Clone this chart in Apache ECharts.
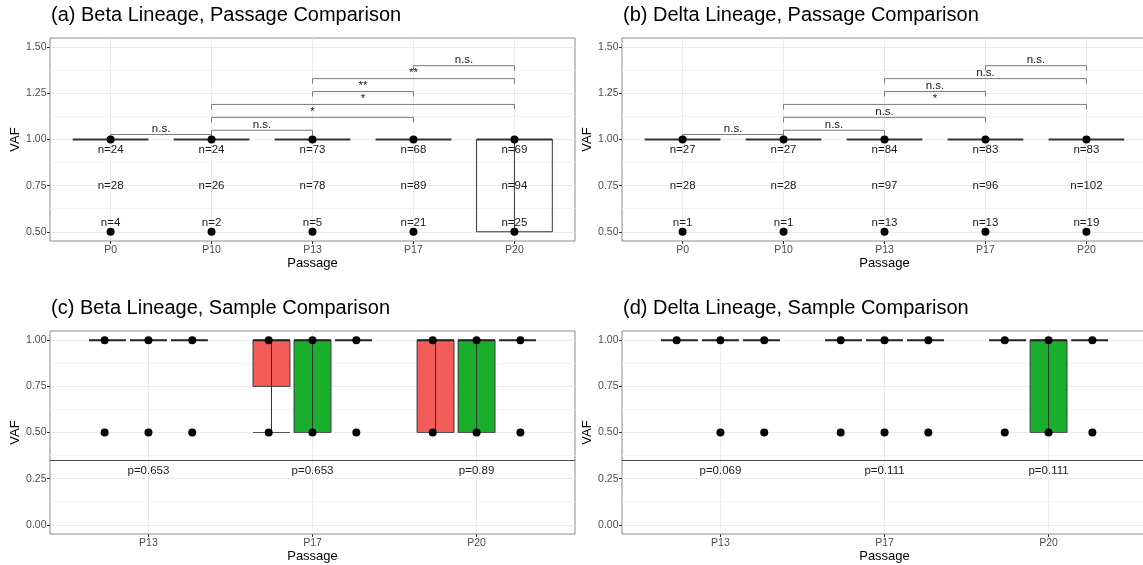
<!DOCTYPE html>
<html>
<head>
<meta charset="utf-8">
<script src="https://cdn.jsdelivr.net/npm/echarts@6/dist/echarts.min.js"></script>
<style>
html, body { margin: 0; padding: 0; background: #fff; }
#chart { width: 1143px; height: 565px; }
</style>
</head>
<body>
<div id="chart"></div>
<script>
// ---- passage comparison (a, b) ----
const passages = ['P0', 'P10', 'P13', 'P17', 'P20'];

const betaPassQ1 = [1, 1, 1, 1, 0.5];
const betaPassQ3 = [1, 1, 1, 1, 1];
const betaPassVals = [[0.5, 1], [0.5, 1], [0.5, 1], [0.5, 1], [0.5, 1]];
const betaCountHigh = [24, 24, 73, 68, 69];
const betaCountMid = [28, 26, 78, 89, 94];
const betaCountLow = [4, 2, 5, 21, 25];

const deltaPassQ1 = [1, 1, 1, 1, 1];
const deltaPassQ3 = [1, 1, 1, 1, 1];
const deltaPassVals = [[0.5, 1], [0.5, 1], [0.5, 1], [0.5, 1], [0.5, 1]];
const deltaCountHigh = [27, 27, 84, 83, 83];
const deltaCountMid = [28, 28, 97, 96, 102];
const deltaCountLow = [1, 1, 13, 13, 19];

const countRowY = [0.946, 0.75, 0.548];

const pairs = [['P0', 'P10'], ['P10', 'P13'], ['P10', 'P17'], ['P10', 'P20'], ['P13', 'P17'], ['P13', 'P20'], ['P17', 'P20']];
const pairY = [1.027, 1.05, 1.12, 1.19, 1.26, 1.33, 1.40];
const betaSig = ['n.s.', 'n.s.', '*', '*', '**', '**', 'n.s.'];
const deltaSig = ['n.s.', 'n.s.', 'n.s.', '*', 'n.s.', 'n.s.', 'n.s.'];

// ---- sample comparison (c, d) ----
const samplePassages = ['P13', 'P17', 'P20'];
const sampleFill = ['#F25D5A', '#1AAE2D', '#619CFF'];

const betaSampMin = [[1, 1, 1], [0.5, 0.5, 1], [0.5, 0.5, 1]];
const betaSampQ1 = [[1, 1, 1], [0.75, 0.5, 1], [0.5, 0.5, 1]];
const betaSampQ3 = [[1, 1, 1], [1, 1, 1], [1, 1, 1]];
const betaSampVals = [
  [[0.5, 1], [0.5, 1], [0.5, 1]],
  [[0.5, 1], [0.5, 1], [0.5, 1]],
  [[0.5, 1], [0.5, 1], [0.5, 1]]
];
const betaP = ['p=0.653', 'p=0.653', 'p=0.89'];

const deltaSampMin = [[1, 1, 1], [1, 1, 1], [1, 0.5, 1]];
const deltaSampQ1 = [[1, 1, 1], [1, 1, 1], [1, 0.5, 1]];
const deltaSampQ3 = [[1, 1, 1], [1, 1, 1], [1, 1, 1]];
const deltaSampVals = [
  [[1], [0.5, 1], [0.5, 1]],
  [[0.5, 1], [0.5, 1], [0.5, 1]],
  [[0.5, 1], [0.5, 1], [0.5, 1]]
];
const deltaP = ['p=0.069', 'p=0.111', 'p=0.111'];

const pRowY = 0.295;
const cutY = 0.35;

// ---- layout / style ----
const FONT = "'Liberation Sans', Arial, Helvetica, sans-serif";
const FRAME_W = 525, FRAME_H = 203;
const PASS_HALF = 0.375;
const SAMP_HALF = 0.1125;
const BOX_OFF = [-0.25, 0, 0.25];
const PT_OFF = [-0.267, 0, 0.267];
const TIP = 0.027;

const panels = [
  { title: '(a) Beta Lineage, Passage Comparison', left: 50, top: 38, kind: 'pass',
    q1: betaPassQ1, q3: betaPassQ3, vals: betaPassVals, counts: [betaCountHigh, betaCountMid, betaCountLow], sig: betaSig },
  { title: '(b) Delta Lineage, Passage Comparison', left: 622, top: 38, kind: 'pass',
    q1: deltaPassQ1, q3: deltaPassQ3, vals: deltaPassVals, counts: [deltaCountHigh, deltaCountMid, deltaCountLow], sig: deltaSig },
  { title: '(c) Beta Lineage, Sample Comparison', left: 50, top: 331, kind: 'samp',
    min: betaSampMin, q1: betaSampQ1, q3: betaSampQ3, vals: betaSampVals, p: betaP },
  { title: '(d) Delta Lineage, Sample Comparison', left: 622, top: 331, kind: 'samp',
    min: deltaSampMin, q1: deltaSampQ1, q3: deltaSampQ3, vals: deltaSampVals, p: deltaP }
];

function txt(str, x, y, va) {
  return { type: 'text', x: x, y: y, style: { text: str, fill: '#1a1a1a', fontSize: 11.5, fontFamily: FONT, align: 'center', verticalAlign: va || 'middle' } };
}

const grids = [], xAxes = [], yAxes = [], series = [], titles = [];

panels.forEach(p => {
  const cats = p.kind === 'pass' ? passages : samplePassages;
  const n = cats.length;
  const yMin = p.kind === 'pass' ? 0.45 : -0.05;
  const yMax = yMin + 1.1;
  const tMin = yMin + 0.05, tMax = yMax - 0.05;
  const pxY = FRAME_H / (yMax - yMin);
  const unit = FRAME_W / (n + 0.2);
  const g = grids.length;

  titles.push({ text: p.title, left: p.left + 1, top: p.top - 32.5, padding: 0,
    textStyle: { fontSize: 20, fontWeight: 'normal', color: '#000', fontFamily: FONT } });

  // frame grid (data lives here)
  grids.push({ left: p.left, top: p.top, width: FRAME_W, height: FRAME_H, show: true,
    borderColor: '#8a8a8a', borderWidth: 1, backgroundColor: 'transparent', outerBoundsMode: 'none' });
  xAxes.push({ type: 'value', gridIndex: g, min: 0.4, max: n + 0.6, show: false });
  yAxes.push({ type: 'value', gridIndex: g, min: yMin, max: yMax, show: false });

  // y axis grid (labels + horizontal grid lines)
  grids.push({ left: p.left, top: p.top + (yMax - tMax) * pxY, width: FRAME_W, height: (tMax - tMin) * pxY, outerBoundsMode: 'none' });
  xAxes.push({ type: 'value', gridIndex: g + 1, show: false });
  yAxes.push({
    type: 'value', gridIndex: g + 1, min: tMin, max: tMax, interval: 0.25,
    name: 'VAF', nameLocation: 'middle', nameGap: 26.5,
    nameTextStyle: { fontSize: 13, color: '#000', fontFamily: FONT },
    axisLine: { show: false },
    axisTick: { show: true, length: 3, lineStyle: { color: '#333' } },
    axisLabel: { margin: 3.5, fontSize: 10.5, color: '#4d4d4d', fontFamily: FONT, formatter: v => v.toFixed(2) },
    splitLine: { show: true, lineStyle: { color: '#ebebeb', width: 1 } },
    minorTick: { show: false, splitNumber: 2 },
    minorSplitLine: { show: true, lineStyle: { color: '#f5f5f5', width: 1 } }
  });

  // x axis grid (category labels + vertical grid lines)
  grids.push({ left: p.left + 0.6 * unit, top: p.top, width: (n - 1) * unit, height: FRAME_H, outerBoundsMode: 'none' });
  xAxes.push({
    type: 'category', gridIndex: g + 2, data: cats, boundaryGap: false,
    name: 'Passage', nameLocation: 'middle', nameGap: 15,
    nameTextStyle: { fontSize: 13, color: '#000', fontFamily: FONT },
    axisLine: { show: false },
    axisTick: { show: true, length: 3, interval: 0, lineStyle: { color: '#333' } },
    axisLabel: { margin: 4, interval: 0, fontSize: 10.5, color: '#4d4d4d', fontFamily: FONT },
    splitLine: { show: true, interval: 0, lineStyle: { color: '#ebebeb', width: 1 } }
  });
  yAxes.push({ type: 'value', gridIndex: g + 2, show: false });

  const ax = { xAxisIndex: g, yAxisIndex: g };

  if (p.kind === 'pass') {
    // count labels
    const cData = [];
    p.counts.forEach((row, r) => row.forEach((c, i) => cData.push([i + 1, countRowY[r], c])));
    series.push(Object.assign({
      type: 'custom', z: 2, silent: true, data: cData,
      renderItem: (params, api) => {
        const pt = api.coord([api.value(0), api.value(1)]);
        return txt('n=' + api.value(2), pt[0], pt[1]);
      }
    }, ax));

    // boxes
    series.push(Object.assign({
      type: 'custom', z: 3, silent: true,
      data: cats.map((c, i) => [i + 1, p.q1[i], p.q3[i]]),
      renderItem: (params, api) => {
        const x = api.value(0), lo = api.value(1), hi = api.value(2);
        const L = api.coord([x - PASS_HALF, hi]), R = api.coord([x + PASS_HALF, lo]);
        const cx = api.coord([x, hi])[0];
        const kids = [];
        if (hi > lo) {
          kids.push({ type: 'rect', shape: { x: L[0], y: L[1], width: R[0] - L[0], height: R[1] - L[1] }, style: { fill: 'none', stroke: '#333', lineWidth: 1 } });
          kids.push({ type: 'line', shape: { x1: cx, y1: L[1], x2: cx, y2: R[1] }, style: { stroke: '#333', lineWidth: 1 } });
        }
        kids.push({ type: 'line', shape: { x1: L[0], y1: L[1], x2: R[0], y2: L[1] }, style: { stroke: '#333', lineWidth: 2 } });
        return { type: 'group', children: kids };
      }
    }, ax));

    // points
    const pts = [];
    p.vals.forEach((vs, i) => vs.forEach(v => pts.push([i + 1, v])));
    series.push(Object.assign({ type: 'scatter', z: 4, silent: true, symbolSize: 8, itemStyle: { color: '#000', opacity: 1 }, data: pts }, ax));

    // significance brackets
    const sig = p.sig;
    series.push(Object.assign({
      type: 'custom', z: 4, silent: true,
      data: pairs.map((pr, j) => [passages.indexOf(pr[0]) + 1, passages.indexOf(pr[1]) + 1, pairY[j]]),
      renderItem: (params, api) => {
        const x1 = api.value(0), x2 = api.value(1), y = api.value(2);
        const a = api.coord([x1, y - TIP]), b = api.coord([x1, y]), c = api.coord([x2, y]), d = api.coord([x2, y - TIP]);
        return { type: 'group', children: [
          { type: 'polyline', shape: { points: [a, b, c, d] }, style: { fill: 'none', stroke: '#7a7a7a', lineWidth: 1 } },
          txt(sig[params.dataIndex], (b[0] + c[0]) / 2, b[1] + 0.5, 'bottom')
        ] };
      }
    }, ax));
  } else {
    // dodged boxes
    const bData = [];
    cats.forEach((c, i) => [0, 1, 2].forEach(j => bData.push([i + 1 + BOX_OFF[j], p.min[i][j], p.q1[i][j], p.q3[i][j], j])));
    series.push(Object.assign({
      type: 'custom', z: 3, silent: true, data: bData,
      renderItem: (params, api) => {
        const x = api.value(0), mn = api.value(1), lo = api.value(2), hi = api.value(3), j = api.value(4);
        const L = api.coord([x - SAMP_HALF, hi]), R = api.coord([x + SAMP_HALF, lo]);
        const bottom = api.coord([x, mn]);
        const kids = [];
        if (hi > mn) {
          if (hi > lo) {
            kids.push({ type: 'rect', shape: { x: L[0], y: L[1], width: R[0] - L[0], height: R[1] - L[1] }, style: { fill: sampleFill[j], stroke: '#3a3a3a', lineWidth: 1 } });
          }
          kids.push({ type: 'line', shape: { x1: L[0], y1: bottom[1], x2: R[0], y2: bottom[1] }, style: { stroke: '#555', lineWidth: 1 } });
          kids.push({ type: 'line', shape: { x1: bottom[0], y1: L[1], x2: bottom[0], y2: bottom[1] }, style: { stroke: '#333', lineWidth: 1 } });
        }
        kids.push({ type: 'line', shape: { x1: L[0], y1: L[1], x2: R[0], y2: L[1] }, style: { stroke: '#222', lineWidth: 2 } });
        return { type: 'group', children: kids };
      }
    }, ax));

    // points + separator line
    const pts = [];
    p.vals.forEach((grp, i) => grp.forEach((vs, j) => vs.forEach(v => pts.push([i + 1 + PT_OFF[j], v]))));
    series.push(Object.assign({
      type: 'scatter', z: 4, silent: true, symbolSize: 8, itemStyle: { color: '#000', opacity: 1 }, data: pts,
      markLine: { silent: true, symbol: ['none', 'none'], animation: false, label: { show: false },
        lineStyle: { color: '#4d4d4d', width: 1.2, type: 'solid' }, data: [{ yAxis: cutY }] }
    }, ax));

    // p-values
    const pv = p.p;
    series.push(Object.assign({
      type: 'custom', z: 4, silent: true,
      data: cats.map((c, i) => [i + 1, pRowY]),
      renderItem: (params, api) => {
        const pt = api.coord([api.value(0), api.value(1)]);
        return txt(pv[params.dataIndex], pt[0], pt[1]);
      }
    }, ax));
  }
});

const myChart = echarts.init(document.getElementById('chart'), null, { renderer: 'canvas' });
myChart.setOption({
  backgroundColor: '#fff',
  animation: false,
  textStyle: { fontFamily: FONT },
  title: titles,
  grid: grids,
  xAxis: xAxes,
  yAxis: yAxes,
  series: series
});
</script>
</body>
</html>
